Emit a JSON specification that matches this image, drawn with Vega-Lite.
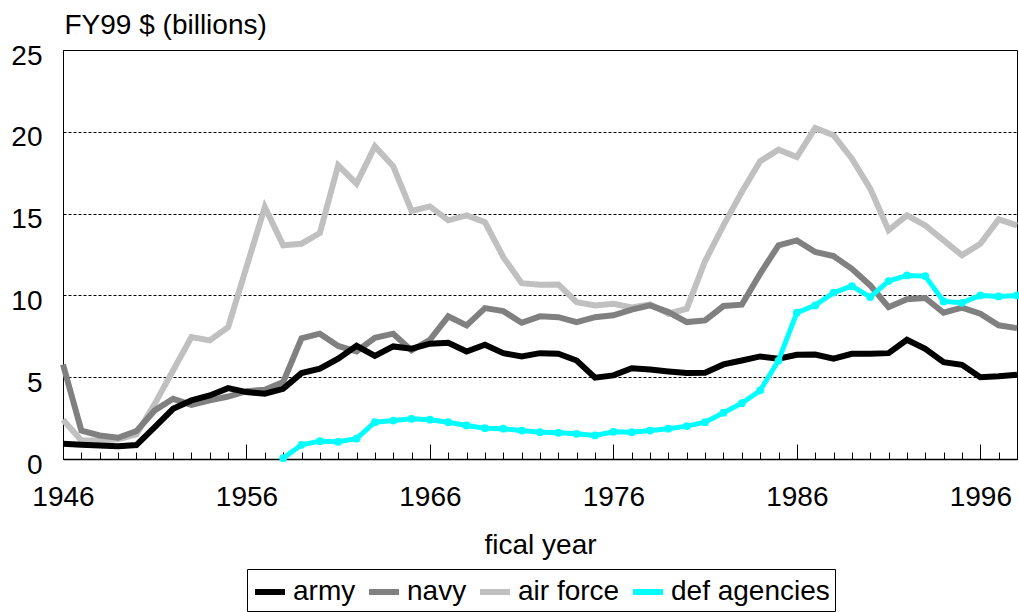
{
  "$schema": "https://vega.github.io/schema/vega-lite/v6.json",
  "width": 954,
  "height": 409,
  "autosize": "none",
  "padding": {"left": 63, "top": 50, "right": 2, "bottom": 153},
  "background": "white",
  "config": {
    "view": {"stroke": "black", "strokeWidth": 1},
    "font": "Liberation Sans"
  },
  "data": {"values": [
    {"year":1946,"s":"army","v":0.93},{"year":1947,"s":"army","v":0.87},{"year":1948,"s":"army","v":0.83},{"year":1949,"s":"army","v":0.78},{"year":1950,"s":"army","v":0.85},
    {"year":1951,"s":"army","v":1.95},{"year":1952,"s":"army","v":3.07},{"year":1953,"s":"army","v":3.58},{"year":1954,"s":"army","v":3.88},{"year":1955,"s":"army","v":4.33},
    {"year":1956,"s":"army","v":4.09},{"year":1957,"s":"army","v":3.99},{"year":1958,"s":"army","v":4.29},{"year":1959,"s":"army","v":5.25},{"year":1960,"s":"army","v":5.52},
    {"year":1961,"s":"army","v":6.13},{"year":1962,"s":"army","v":6.92},{"year":1963,"s":"army","v":6.30},{"year":1964,"s":"army","v":6.88},{"year":1965,"s":"army","v":6.74},
    {"year":1966,"s":"army","v":7.05},{"year":1967,"s":"army","v":7.11},{"year":1968,"s":"army","v":6.57},{"year":1969,"s":"army","v":6.98},{"year":1970,"s":"army","v":6.47},
    {"year":1971,"s":"army","v":6.27},{"year":1972,"s":"army","v":6.47},{"year":1973,"s":"army","v":6.43},{"year":1974,"s":"army","v":6.02},{"year":1975,"s":"army","v":4.97},
    {"year":1976,"s":"army","v":5.11},{"year":1977,"s":"army","v":5.55},{"year":1978,"s":"army","v":5.47},{"year":1979,"s":"army","v":5.35},{"year":1980,"s":"army","v":5.25},
    {"year":1981,"s":"army","v":5.27},{"year":1982,"s":"army","v":5.78},{"year":1983,"s":"army","v":6.02},{"year":1984,"s":"army","v":6.27},{"year":1985,"s":"army","v":6.13},
    {"year":1986,"s":"army","v":6.37},{"year":1987,"s":"army","v":6.39},{"year":1988,"s":"army","v":6.13},{"year":1989,"s":"army","v":6.43},{"year":1990,"s":"army","v":6.43},
    {"year":1991,"s":"army","v":6.47},{"year":1992,"s":"army","v":7.29},{"year":1993,"s":"army","v":6.74},{"year":1994,"s":"army","v":5.92},{"year":1995,"s":"army","v":5.76},
    {"year":1996,"s":"army","v":5.00},{"year":1997,"s":"army","v":5.06},{"year":1998,"s":"army","v":5.15},

    {"year":1946,"s":"navy","v":5.78},{"year":1947,"s":"navy","v":1.74},{"year":1948,"s":"navy","v":1.44},{"year":1949,"s":"navy","v":1.30},{"year":1950,"s":"navy","v":1.70},
    {"year":1951,"s":"navy","v":2.97},{"year":1952,"s":"navy","v":3.68},{"year":1953,"s":"navy","v":3.31},{"year":1954,"s":"navy","v":3.58},{"year":1955,"s":"navy","v":3.82},
    {"year":1956,"s":"navy","v":4.15},{"year":1957,"s":"navy","v":4.23},{"year":1958,"s":"navy","v":4.70},{"year":1959,"s":"navy","v":7.38},{"year":1960,"s":"navy","v":7.66},
    {"year":1961,"s":"navy","v":6.91},{"year":1962,"s":"navy","v":6.57},{"year":1963,"s":"navy","v":7.41},{"year":1964,"s":"navy","v":7.66},{"year":1965,"s":"navy","v":6.64},
    {"year":1966,"s":"navy","v":7.29},{"year":1967,"s":"navy","v":8.72},{"year":1968,"s":"navy","v":8.17},{"year":1969,"s":"navy","v":9.22},{"year":1970,"s":"navy","v":9.04},
    {"year":1971,"s":"navy","v":8.33},{"year":1972,"s":"navy","v":8.72},{"year":1973,"s":"navy","v":8.67},{"year":1974,"s":"navy","v":8.37},{"year":1975,"s":"navy","v":8.67},
    {"year":1976,"s":"navy","v":8.78},{"year":1977,"s":"navy","v":9.13},{"year":1978,"s":"navy","v":9.39},{"year":1979,"s":"navy","v":8.98},{"year":1980,"s":"navy","v":8.37},
    {"year":1981,"s":"navy","v":8.47},{"year":1982,"s":"navy","v":9.35},{"year":1983,"s":"navy","v":9.43},{"year":1984,"s":"navy","v":11.33},{"year":1985,"s":"navy","v":13.06},
    {"year":1986,"s":"navy","v":13.36},{"year":1987,"s":"navy","v":12.65},{"year":1988,"s":"navy","v":12.40},{"year":1989,"s":"navy","v":11.63},{"year":1990,"s":"navy","v":10.61},
    {"year":1991,"s":"navy","v":9.28},{"year":1992,"s":"navy","v":9.76},{"year":1993,"s":"navy","v":9.84},{"year":1994,"s":"navy","v":8.94},{"year":1995,"s":"navy","v":9.25},
    {"year":1996,"s":"navy","v":8.88},{"year":1997,"s":"navy","v":8.17},{"year":1998,"s":"navy","v":8.00},

    {"year":1946,"s":"air force","v":2.40},{"year":1947,"s":"air force","v":1.13},{"year":1948,"s":"air force","v":1.15},{"year":1949,"s":"air force","v":1.20},{"year":1950,"s":"air force","v":1.50},
    {"year":1951,"s":"air force","v":3.37},{"year":1952,"s":"air force","v":5.41},{"year":1953,"s":"air force","v":7.45},{"year":1954,"s":"air force","v":7.25},{"year":1955,"s":"air force","v":8.06},
    {"year":1956,"s":"air force","v":11.73},{"year":1957,"s":"air force","v":15.40},{"year":1958,"s":"air force","v":13.06},{"year":1959,"s":"air force","v":13.16},{"year":1960,"s":"air force","v":13.81},
    {"year":1961,"s":"air force","v":17.95},{"year":1962,"s":"air force","v":16.83},{"year":1963,"s":"air force","v":19.11},{"year":1964,"s":"air force","v":17.89},{"year":1965,"s":"air force","v":15.16},
    {"year":1966,"s":"air force","v":15.44},{"year":1967,"s":"air force","v":14.59},{"year":1968,"s":"air force","v":14.89},{"year":1969,"s":"air force","v":14.48},{"year":1970,"s":"air force","v":12.34},
    {"year":1971,"s":"air force","v":10.75},{"year":1972,"s":"air force","v":10.65},{"year":1973,"s":"air force","v":10.67},{"year":1974,"s":"air force","v":9.59},{"year":1975,"s":"air force","v":9.39},
    {"year":1976,"s":"air force","v":9.49},{"year":1977,"s":"air force","v":9.27},{"year":1978,"s":"air force","v":9.45},{"year":1979,"s":"air force","v":8.88},{"year":1980,"s":"air force","v":9.19},
    {"year":1981,"s":"air force","v":12.10},{"year":1982,"s":"air force","v":14.28},{"year":1983,"s":"air force","v":16.32},{"year":1984,"s":"air force","v":18.20},{"year":1985,"s":"air force","v":18.91},
    {"year":1986,"s":"air force","v":18.46},{"year":1987,"s":"air force","v":20.23},{"year":1988,"s":"air force","v":19.79},{"year":1989,"s":"air force","v":18.36},{"year":1990,"s":"air force","v":16.53},
    {"year":1991,"s":"air force","v":13.98},{"year":1992,"s":"air force","v":14.89},{"year":1993,"s":"air force","v":14.28},{"year":1994,"s":"air force","v":13.36},{"year":1995,"s":"air force","v":12.45},
    {"year":1996,"s":"air force","v":13.16},{"year":1997,"s":"air force","v":14.65},{"year":1998,"s":"air force","v":14.28},

    {"year":1958,"s":"def agencies","v":0.05},{"year":1959,"s":"def agencies","v":0.87},{"year":1960,"s":"def agencies","v":1.09},
    {"year":1961,"s":"def agencies","v":1.05},{"year":1962,"s":"def agencies","v":1.24},{"year":1963,"s":"def agencies","v":2.25},{"year":1964,"s":"def agencies","v":2.35},{"year":1965,"s":"def agencies","v":2.46},
    {"year":1966,"s":"def agencies","v":2.40},{"year":1967,"s":"def agencies","v":2.25},{"year":1968,"s":"def agencies","v":2.05},{"year":1969,"s":"def agencies","v":1.88},{"year":1970,"s":"def agencies","v":1.85},
    {"year":1971,"s":"def agencies","v":1.74},{"year":1972,"s":"def agencies","v":1.64},{"year":1973,"s":"def agencies","v":1.60},{"year":1974,"s":"def agencies","v":1.54},{"year":1975,"s":"def agencies","v":1.44},
    {"year":1976,"s":"def agencies","v":1.66},{"year":1977,"s":"def agencies","v":1.64},{"year":1978,"s":"def agencies","v":1.74},{"year":1979,"s":"def agencies","v":1.85},{"year":1980,"s":"def agencies","v":2.01},
    {"year":1981,"s":"def agencies","v":2.25},{"year":1982,"s":"def agencies","v":2.83},{"year":1983,"s":"def agencies","v":3.41},{"year":1984,"s":"def agencies","v":4.19},{"year":1985,"s":"def agencies","v":6.02},
    {"year":1986,"s":"def agencies","v":8.94},{"year":1987,"s":"def agencies","v":9.39},{"year":1988,"s":"def agencies","v":10.17},{"year":1989,"s":"def agencies","v":10.57},{"year":1990,"s":"def agencies","v":9.90},
    {"year":1991,"s":"def agencies","v":10.88},{"year":1992,"s":"def agencies","v":11.22},{"year":1993,"s":"def agencies","v":11.18},{"year":1994,"s":"def agencies","v":9.63},{"year":1995,"s":"def agencies","v":9.55},
    {"year":1996,"s":"def agencies","v":10.00},{"year":1997,"s":"def agencies","v":9.94},{"year":1998,"s":"def agencies","v":10.00}
  ]},
  "encoding": {
    "x": {
      "field": "year", "type": "quantitative",
      "scale": {"domain": [1946, 1998], "nice": false, "zero": false},
      "axis": {
        "values": [1946,1947,1948,1949,1950,1951,1952,1953,1954,1955,1956,1957,1958,1959,1960,1961,1962,1963,1964,1965,1966,1967,1968,1969,1970,1971,1972,1973,1974,1975,1976,1977,1978,1979,1980,1981,1982,1983,1984,1985,1986,1987,1988,1989,1990,1991,1992,1993,1994,1995,1996,1997,1998],
        "format": "d",
        "labelExpr": "(datum.value - 1946) % 10 === 0 ? datum.label : ''",
        "tickSize": {"condition": {"test": "(datum.value - 1946) % 10 === 0", "value": -15}, "value": -7},
        "tickColor": "black", "tickWidth": 1,
        "domainColor": "black", "domainWidth": 1.5,
        "labelFont": "Liberation Sans", "labelFontSize": 28, "labelColor": "black",
        "labelPadding": 39, "labelFlush": false, "labelOverlap": false,
        "grid": false,
        "title": "fical year",
        "titleFont": "Liberation Sans", "titleFontSize": 28, "titleFontWeight": "normal", "titleColor": "black",
        "titlePadding": 12
      }
    },
    "y": {
      "field": "v", "type": "quantitative",
      "scale": {"domain": [0, 25], "nice": false},
      "axis": {
        "values": [0, 5, 10, 15, 20, 25],
        "ticks": false, "domain": false,
        "grid": true, "gridColor": "black", "gridDash": [3, 2], "gridWidth": 1,
        "labelFont": "Liberation Sans", "labelFontSize": 28, "labelColor": "black",
        "labelPadding": 21, "labelOffset": 6,
        "title": "FY99 $ (billions)",
        "titleAngle": 0, "titleAlign": "left", "titleBaseline": "middle",
        "titleX": 1, "titleY": -25,
        "titleFont": "Liberation Sans", "titleFontSize": 28, "titleFontWeight": "normal", "titleColor": "black"
      }
    },
    "color": {
      "field": "s", "type": "nominal",
      "scale": {"domain": ["army", "navy", "air force", "def agencies"], "range": ["#000000", "#808080", "#C0C0C0", "#00FFFF"]},
      "legend": {
        "title": null, "orient": "none", "legendX": 184, "legendY": 519,
        "direction": "horizontal",
        "symbolType": "stroke", "symbolStrokeWidth": 6, "symbolSize": 900,
        "labelFont": "Liberation Sans", "labelFontSize": 28, "labelColor": "black",
        "labelOffset": 5, "columnPadding": 1,
        "strokeColor": "black", "padding": 5
      }
    }
  },
  "layer": [
    {"transform": [{"filter": "datum.s === 'air force'"}], "mark": {"type": "line", "strokeWidth": 6}},
    {"transform": [{"filter": "datum.s === 'navy'"}], "mark": {"type": "line", "strokeWidth": 6}},
    {"transform": [{"filter": "datum.s === 'army'"}], "mark": {"type": "line", "strokeWidth": 6}},
    {"transform": [{"filter": "datum.s === 'def agencies'"}], "mark": {"type": "line", "strokeWidth": 5}},
    {"transform": [{"filter": "datum.s === 'def agencies'"}], "mark": {"type": "point", "filled": true, "size": 60, "opacity": 1, "color": "#00FFFF"}, "encoding": {"color": {"value": "#00FFFF"}}}
  ]
}
